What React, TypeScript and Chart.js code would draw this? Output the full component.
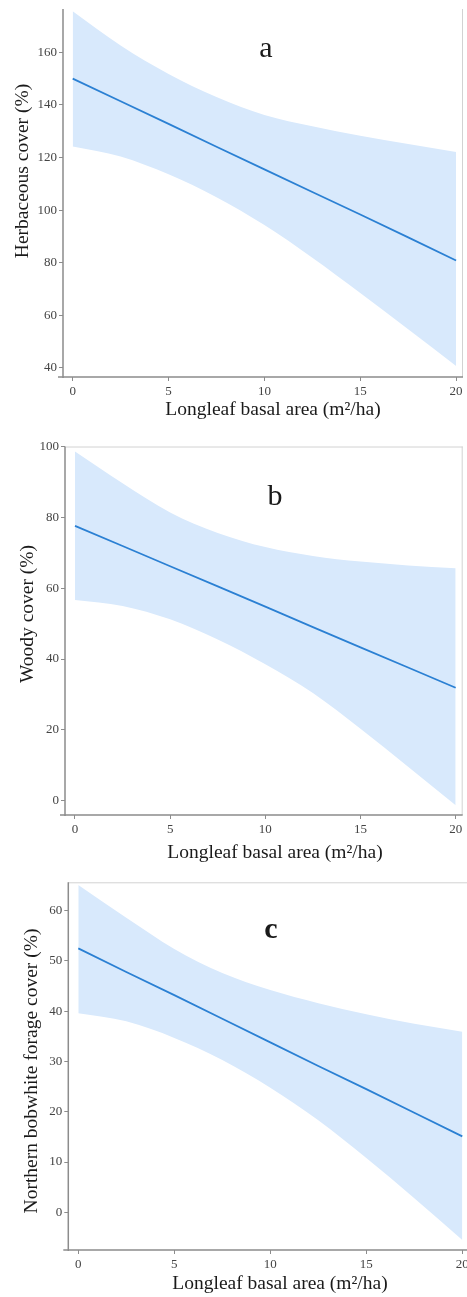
import React, { useEffect, useRef } from "react";
import { Chart, registerables } from "chart.js";

Chart.register(...registerables);

// ---- data ----
const basalArea = [0, 2.5, 5, 7.5, 10, 12.5, 15, 17.5, 20];
const xTickValues = [0, 5, 10, 15, 20];
const xAxisTitle = "Longleaf basal area (m²/ha)";

const herbFit = [150, 141.4, 132.8, 124.1, 115.5, 106.9, 98.3, 89.6, 80.8];
const herbUpper = [175.6, 162.6, 151.8, 143.0, 136.2, 131.9, 128.3, 125.1, 122.1];
const herbLower = [124.2, 120.4, 113.6, 104.9, 94.3, 81.9, 68.5, 54.7, 40.7];
const herbTicks = [40, 60, 80, 100, 120, 140, 160];

const woodyFit = [77.6, 71.9, 66.2, 60.5, 54.8, 49.0, 43.3, 37.6, 31.9];
const woodyUpper = [98.6, 89.6, 81.4, 75.6, 71.6, 69.1, 67.5, 66.4, 65.6];
const woodyLower = [56.7, 55.0, 51.2, 45.5, 38.5, 30.4, 20.3, 9.6, -1.3];
const woodyTicks = [0, 20, 40, 60, 80, 100];

const forageFit = [52.5, 47.8, 43.2, 38.5, 33.8, 29.1, 24.5, 19.8, 15.1];
const forageUpper = [65.1, 58.6, 52.4, 47.6, 44.2, 41.6, 39.4, 37.5, 35.9];
const forageLower = [39.6, 38.0, 34.7, 30.3, 24.8, 18.3, 10.8, 2.8, -5.5];
const forageTicks = [0, 10, 20, 30, 40, 50, 60];

// ---- styling ----
const W = 467;
const SERIF = '"Liberation Serif", "Times New Roman", serif';
const LINE = "#2b80d3";
const BAND = "#d8e9fc";
const AXIS = "#8c8c8c";
const FRAME = "#d2d2d2";

type PanelCfg = {
  top: number;
  height: number;
  area: { left: number; top: number; right: number; bottom: number };
  xMin: number;
  xMax: number;
  yMin: number;
  yMax: number;
  yTicks: number[];
  fit: number[];
  upper: number[];
  lower: number[];
  yTitle: string;
  yTitleX: number;
  yTitleY: number;
  xTitleX: number;
  xTitleY: number;
  letter: string;
  letterX: number;
  letterY: number;
  letterBold: boolean;
  topFrame: boolean;
  rightFrame: boolean;
};

const panels: PanelCfg[] = [
  {
    top: 0,
    height: 430,
    area: { left: 63, top: 9, right: 463, bottom: 377 },
    xMin: -0.506,
    xMax: 20.36,
    yMin: 36.5,
    yMax: 176.5,
    yTicks: herbTicks,
    fit: herbFit,
    upper: herbUpper,
    lower: herbLower,
    yTitle: "Herbaceous cover (%)",
    yTitleX: 23,
    yTitleY: 171,
    xTitleX: 273,
    xTitleY: 415,
    letter: "a",
    letterX: 266,
    letterY: 56.7,
    letterBold: false,
    topFrame: false,
    rightFrame: true,
  },
  {
    top: 430,
    height: 435,
    area: { left: 65, top: 16.5, right: 462.7, bottom: 385 },
    xMin: -0.525,
    xMax: 20.37,
    yMin: -4.03,
    yMax: 100,
    yTicks: woodyTicks,
    fit: woodyFit,
    upper: woodyUpper,
    lower: woodyLower,
    yTitle: "Woody cover (%)",
    yTitleX: 27.5,
    yTitleY: 184,
    xTitleX: 275,
    xTitleY: 428,
    letter: "b",
    letterX: 275,
    letterY: 75,
    letterBold: false,
    topFrame: true,
    rightFrame: true,
  },
  {
    top: 865,
    height: 432,
    area: { left: 68.3, top: 17.3, right: 467, bottom: 385 },
    xMin: -0.52,
    xMax: 20.245,
    yMin: -7.5,
    yMax: 65.65,
    yTicks: forageTicks,
    fit: forageFit,
    upper: forageUpper,
    lower: forageLower,
    yTitle: "Northern bobwhite forage cover (%)",
    yTitleX: 32,
    yTitleY: 206,
    xTitleX: 280,
    xTitleY: 424,
    letter: "c",
    letterX: 271,
    letterY: 73.3,
    letterBold: true,
    topFrame: true,
    rightFrame: false,
  },
];

function Panel({ cfg }: { cfg: PanelCfg }) {
  const ref = useRef<HTMLCanvasElement>(null);

  useEffect(() => {
    const canvas = ref.current;
    if (!canvas) return;
    const pts = (ys: number[]) => basalArea.map((x, i) => ({ x, y: ys[i] }));
    const a = cfg.area;

    const decor = {
      id: "decor",
      afterDraw(chart: any) {
        const { ctx, chartArea: ca } = chart;
        ctx.save();
        ctx.strokeStyle = FRAME;
        ctx.lineWidth = 1;
        ctx.beginPath();
        if (cfg.topFrame) {
          ctx.moveTo(ca.left, ca.top + 0.5);
          ctx.lineTo(ca.right, ca.top + 0.5);
        }
        if (cfg.rightFrame) {
          ctx.moveTo(ca.right - 0.5, ca.top);
          ctx.lineTo(ca.right - 0.5, ca.bottom);
        }
        ctx.stroke();

        ctx.strokeStyle = AXIS;
        ctx.lineWidth = 1.5;
        ctx.beginPath();
        ctx.moveTo(ca.left, ca.top);
        ctx.lineTo(ca.left, ca.bottom + 1);
        ctx.moveTo(ca.left - 5, ca.bottom);
        ctx.lineTo(ca.right, ca.bottom);
        ctx.stroke();

        ctx.fillStyle = "#1a1a1a";
        ctx.font = `19.5px ${SERIF}`;
        ctx.textAlign = "center";
        ctx.textBaseline = "alphabetic";
        ctx.fillText(xAxisTitle, cfg.xTitleX, cfg.xTitleY);

        ctx.save();
        ctx.translate(cfg.yTitleX, cfg.yTitleY);
        ctx.rotate(-Math.PI / 2);
        ctx.textBaseline = "middle";
        ctx.fillText(cfg.yTitle, 0, 0);
        ctx.restore();

        ctx.font = `${cfg.letterBold ? "bold " : ""}30px ${SERIF}`;
        ctx.textBaseline = "alphabetic";
        ctx.textAlign = "center";
        ctx.fillText(cfg.letter, cfg.letterX, cfg.letterY);
        ctx.restore();
      },
    };

    const tickFont = { family: SERIF, size: 13 };

    const chart = new Chart(canvas, {
      type: "line",
      data: {
        datasets: [
          {
            label: "fit",
            data: pts(cfg.fit),
            borderColor: LINE,
            borderWidth: 1.8,
            pointRadius: 0,
            fill: false,
            tension: 0,
          },
          {
            label: "upper",
            data: pts(cfg.upper),
            borderColor: "rgba(0,0,0,0)",
            borderWidth: 0,
            pointRadius: 0,
            backgroundColor: BAND,
            fill: "+1",
            cubicInterpolationMode: "monotone",
          },
          {
            label: "lower",
            data: pts(cfg.lower),
            borderColor: "rgba(0,0,0,0)",
            borderWidth: 0,
            pointRadius: 0,
            fill: false,
            cubicInterpolationMode: "monotone",
          },
        ],
      } as any,
      options: {
        responsive: false,
        animation: false,
        devicePixelRatio: 1,
        events: [],
        layout: {
          padding: { top: a.top, right: W - a.right, left: 0, bottom: 0 },
        },
        plugins: {
          legend: { display: false },
          tooltip: { enabled: false },
          filler: { propagate: false, drawTime: "beforeDatasetsDraw" },
        } as any,
        scales: {
          x: {
            type: "linear",
            min: cfg.xMin,
            max: cfg.xMax,
            afterBuildTicks: (s: any) => {
              s.ticks = xTickValues.map((v) => ({ value: v }));
            },
            afterFit: (s: any) => {
              s.height = cfg.height - a.bottom;
              s.paddingLeft = 0;
              s.paddingRight = 0;
            },
            grid: {
              drawOnChartArea: false,
              drawTicks: true,
              tickLength: 4,
              color: AXIS,
              lineWidth: 1,
            },
            border: { display: false },
            ticks: {
              font: tickFont,
              color: "#444",
              padding: 3,
              maxRotation: 0,
              autoSkip: false,
            },
          },
          y: {
            type: "linear",
            min: cfg.yMin,
            max: cfg.yMax,
            afterBuildTicks: (s: any) => {
              s.ticks = cfg.yTicks.map((v) => ({ value: v }));
            },
            afterFit: (s: any) => {
              s.width = a.left;
              s.paddingTop = 0;
              s.paddingBottom = 0;
            },
            grid: {
              drawOnChartArea: false,
              drawTicks: true,
              tickLength: 4,
              color: AXIS,
              lineWidth: 1,
            },
            border: { display: false },
            ticks: {
              font: tickFont,
              color: "#444",
              padding: 2,
              autoSkip: false,
            },
          },
        },
      } as any,
      plugins: [decor],
    });

    return () => chart.destroy();
  }, [cfg]);

  return (
    <canvas
      ref={ref}
      width={W}
      height={cfg.height}
      style={{
        position: "absolute",
        left: 0,
        top: cfg.top,
        width: W,
        height: cfg.height,
        display: "block",
      }}
    />
  );
}

export default function App() {
  return (
    <div
      style={{
        position: "absolute",
        left: 0,
        top: 0,
        width: W,
        height: 1297,
        background: "#fff",
        overflow: "hidden",
      }}
    >
      {panels.map((p) => (
        <Panel key={p.letter} cfg={p} />
      ))}
    </div>
  );
}
